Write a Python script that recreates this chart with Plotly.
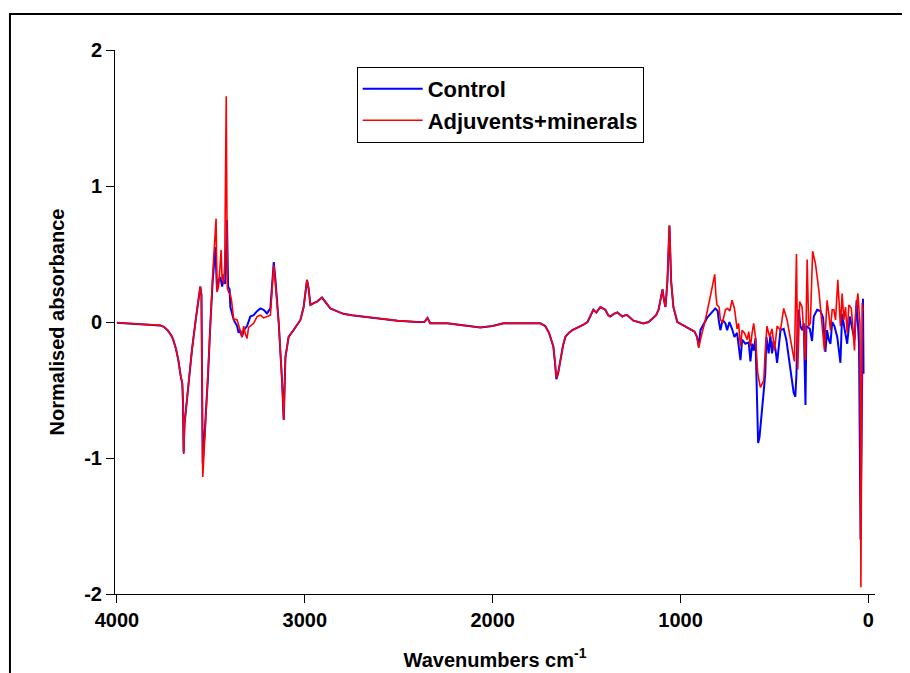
import plotly.graph_objects as go

# ---- data ----
wn_control = [4000, 3950, 3900, 3850, 3800, 3770, 3750, 3730, 3710, 3700, 3685, 3673, 3660, 3652, 3648, 3645,
              3640, 3620, 3600, 3580, 3565, 3556, 3550, 3543, 3530, 3515, 3502, 3490, 3476, 3467, 3458, 3449,
              3440, 3432, 3423, 3414, 3408, 3400, 3396, 3378, 3360, 3352, 3343, 3334, 3325, 3307, 3290, 3272,
              3254, 3236, 3219, 3201, 3183, 3165, 3156, 3139, 3121, 3112, 3103, 3086, 3060, 3040, 3023, 3006,
              2988, 2980, 2970, 2950, 2935, 2908, 2890, 2864, 2830, 2795, 2750, 2689, 2600, 2507, 2401, 2363,
              2347, 2332, 2241, 2150, 2066, 2000, 1943, 1870, 1799, 1746, 1720, 1700, 1693, 1677, 1668, 1661,
              1652, 1640, 1625, 1613, 1595, 1576, 1545, 1517, 1495, 1480, 1464, 1448, 1427, 1400, 1385, 1374,
              1355, 1336, 1320, 1310, 1295, 1283, 1251, 1220, 1198, 1170, 1144, 1130, 1117, 1096, 1088, 1080,
              1070, 1059, 1050, 1038, 1017, 990, 963, 940, 926, 912, 903,
              894, 859, 815, 802, 797, 788, 776, 761, 752, 740, 726, 713, 699, 691, 681, 672, 655, 637, 628,
              619, 611, 601, 597, 592, 587, 580, 570, 560, 549, 543, 531, 522, 513, 505, 495, 486, 468, 451,
              437, 416, 398, 389, 383, 376, 371, 362, 353, 344, 335, 330, 312, 300, 291, 273, 255, 241, 229,
              220, 211, 202, 193, 181, 166, 149, 140, 127, 113, 99, 86, 74, 63, 50, 42, 29, 26]
abs_control = [-0.005, -0.01, -0.015, -0.015, -0.02, -0.025, -0.035, -0.06, -0.1, -0.13, -0.2, -0.28, -0.4, -0.45, -0.6, -0.96,
               -0.75, -0.45, -0.2, 0.02, 0.18, 0.26, 0.2, -1.04, -0.75, -0.4, 0.0, 0.3, 0.55, 0.23, 0.31, 0.33,
               0.26, 0.31, 0.28, 0.75, 0.26, 0.24, 0.11, 0.015, -0.03, -0.08, -0.06, -0.11, -0.06, -0.03, 0.04, 0.05,
               0.08, 0.10, 0.09, 0.064, 0.10, 0.44, 0.31, 0.0, -0.43, -0.72, -0.26, -0.11, -0.06, -0.02, 0.015, 0.11,
               0.31, 0.25, 0.125, 0.14, 0.15, 0.18, 0.15, 0.10, 0.08, 0.06, 0.05, 0.04, 0.025, 0.01, 0.0, 0.0,
               0.03, -0.01, -0.01, -0.025, -0.04, -0.03, -0.01, -0.01, -0.01, -0.01, -0.03, -0.08, -0.11, -0.18, -0.3, -0.42,
               -0.38, -0.28, -0.17, -0.11, -0.08, -0.06, -0.04, -0.02, 0.0, 0.04, 0.09, 0.07, 0.11, 0.09, 0.05, 0.04,
               0.06, 0.07, 0.05, 0.04, 0.05, 0.05, 0.01, -0.005, -0.01, 0.0, 0.03, 0.05, 0.09, 0.24, 0.16, 0.11,
               0.3, 0.71, 0.3, 0.11, 0.0, -0.02, -0.04, -0.06, -0.07, -0.11, -0.18,
               -0.06, 0.03, 0.10, 0.08, 0.015, -0.06, 0.015, -0.01, -0.06, 0.0, -0.05, -0.11, -0.08, -0.16, -0.28, -0.13, -0.16, -0.15, -0.29,
               -0.16, -0.21, -0.12, -0.35, -0.75, -0.89, -0.85, -0.72, -0.55, -0.38, -0.11, -0.23, -0.10, -0.23, -0.14, -0.2, -0.30, -0.06, -0.05,
               -0.13, -0.35, -0.52, -0.55, -0.38, 0.04, 0.09, -0.03, -0.06, -0.01, -0.61, -0.03, -0.05, -0.14, 0.04, 0.09, 0.08, 0.03, -0.22,
               -0.06, -0.13, -0.16, 0.0, -0.03, -0.11, -0.30, 0.06, -0.05, -0.16, 0.04, -0.05, -0.13, 0.16, -0.16, -1.6, 0.17, -0.38]

wn_adjuvants = [4000, 3950, 3900, 3850, 3800, 3770, 3750, 3730, 3710, 3700, 3685, 3673, 3660, 3652, 3648, 3644,
                3640, 3620, 3600, 3580, 3565, 3556, 3550, 3543, 3530, 3515, 3502, 3490, 3472, 3467, 3458, 3445,
                3440, 3436, 3432, 3426, 3418, 3412, 3405, 3396, 3390, 3378, 3370, 3360, 3343, 3334, 3325, 3316,
                3307, 3299, 3290, 3272, 3254, 3236, 3219, 3201, 3183, 3165, 3156, 3139, 3121, 3112, 3103, 3086,
                3060, 3040, 3023, 3006, 2988, 2980, 2970, 2950, 2935, 2908, 2890, 2864, 2830, 2795, 2750, 2689,
                2600, 2507, 2401, 2363, 2347, 2332, 2241, 2150, 2066, 2000, 1943, 1870, 1799, 1746, 1720, 1700,
                1693, 1677, 1668, 1661, 1652, 1640, 1625, 1613, 1595, 1576, 1545, 1517, 1495, 1480, 1464, 1448,
                1427, 1400, 1385, 1374, 1355, 1336, 1320, 1310, 1295, 1283, 1251, 1220, 1198, 1170, 1144, 1130,
                1117, 1096, 1088, 1080, 1070, 1059, 1050, 1038, 1017, 990, 963, 940, 926, 912, 903,
                894, 868, 841, 818, 812, 806, 795, 788, 776, 761, 749, 738, 726, 713, 699, 691, 681, 672, 660,
                645, 637, 628, 619, 611, 601, 589, 575, 557, 549, 540, 526, 513, 500, 486, 468, 451, 433, 416,
                394, 383, 376, 366, 353, 335, 326, 318, 309, 297, 282, 264, 246, 234, 229, 220, 211, 202, 193,
                184, 175, 163, 149, 140, 131, 122, 113, 104, 91, 80, 74, 68, 56, 45, 40, 33, 29]
abs_adjuvants = [-0.005, -0.01, -0.015, -0.015, -0.02, -0.025, -0.035, -0.06, -0.1, -0.13, -0.2, -0.28, -0.4, -0.45, -0.55, -0.97,
                 -0.75, -0.45, -0.2, 0.02, 0.18, 0.26, 0.2, -1.14, -0.8, -0.42, 0.0, 0.35, 0.76, 0.22, 0.27, 0.53,
                 0.31, 0.35, 0.28, 0.42, 1.66, 0.25, 0.22, 0.2, 0.16, 0.015, 0.02, 0.015, -0.06, -0.11, -0.03, -0.09,
                 -0.12, -0.04, -0.03, -0.01, 0.04, 0.05, 0.03, 0.04, 0.05, 0.42, 0.28, 0.0, -0.43, -0.72, -0.26, -0.11,
                 -0.06, -0.02, 0.015, 0.11, 0.31, 0.25, 0.125, 0.14, 0.15, 0.18, 0.15, 0.10, 0.08, 0.06, 0.05, 0.04,
                 0.025, 0.01, 0.0, 0.0, 0.03, -0.01, -0.01, -0.025, -0.04, -0.03, -0.01, -0.01, -0.01, -0.01, -0.03, -0.08,
                 -0.11, -0.18, -0.3, -0.41, -0.38, -0.28, -0.17, -0.11, -0.08, -0.06, -0.04, -0.02, 0.0, 0.04, 0.09, 0.07,
                 0.11, 0.09, 0.05, 0.04, 0.06, 0.07, 0.05, 0.04, 0.05, 0.05, 0.01, -0.005, -0.01, 0.0, 0.03, 0.05,
                 0.09, 0.24, 0.16, 0.11, 0.3, 0.71, 0.3, 0.11, 0.0, -0.02, -0.04, -0.06, -0.07, -0.11, -0.19,
                 -0.13, 0.015, 0.19, 0.35, 0.2, 0.125, 0.11, 0.015, 0.0, 0.09, 0.1, 0.08, 0.16, 0.1, -0.05, -0.01, -0.18, -0.06, -0.08,
                 -0.13, -0.07, -0.18, -0.08, -0.01, -0.11, -0.38, -0.48, -0.43, -0.21, -0.03, -0.11, -0.05, -0.21, -0.03, -0.06, 0.10, 0.015, -0.13,
                 -0.29, 0.50, -0.35, 0.15, 0.11, -0.28, 0.46, -0.03, -0.01, 0.52, 0.43, 0.235, -0.01, -0.21, -0.07, 0.16, 0.06, -0.06, 0.09,
                 0.09, 0.015, 0.31, -0.03, 0.21, 0.015, 0.11, -0.08, 0.125, 0.1, -0.11, -0.21, 0.06, 0.21, -0.01, -1.95, 0.14, 0.08]

x_ticks = [4000, 3000, 2000, 1000, 0]
y_ticks = [-2, -1, 0, 1, 2]

FONT = "Arial, 'Liberation Sans', sans-serif"

fig = go.Figure()
fig.add_trace(go.Scatter(x=wn_control, y=abs_control, mode="lines", name="Control",
                         line=dict(color="#0000FF", width=2)))
fig.add_trace(go.Scatter(x=wn_adjuvants, y=abs_adjuvants, mode="lines", name="Adjuvents+minerals",
                         line=dict(color="#FF0000", width=1.6)))

axis_common = dict(showline=True, linecolor="black", linewidth=1, ticks="outside", ticklen=8,
                   tickcolor="black", tickwidth=1, showgrid=False, zeroline=False, automargin=False,
                   tickfont=dict(family=FONT, size=20, color="black", weight="bold"))

fig.update_layout(
    width=902, height=665,
    margin=dict(l=107, r=35, t=42, b=79),
    paper_bgcolor="white", plot_bgcolor="white",
    showlegend=True,
    legend=dict(x=0.318, y=0.969, xanchor="left", yanchor="top",
                bordercolor="black", borderwidth=1, bgcolor="white",
                font=dict(family=FONT, size=22, color="black", weight="bold"),
                itemwidth=60, tracegroupgap=0),
    xaxis=dict(range=[4010, -35], tickmode="array", tickvals=x_ticks,
               ticktext=[str(v) for v in x_ticks],
               title=dict(text="Wavenumbers cm<sup>-1</sup>", standoff=22,
                          font=dict(family=FONT, size=20, color="black", weight="bold")),
               **axis_common),
    yaxis=dict(range=[-2, 2], tickmode="array", tickvals=y_ticks,
               ticktext=[str(v) for v in y_ticks],
               title=dict(text="Normalised absorbance", standoff=14,
                          font=dict(family=FONT, size=20, color="black", weight="bold")),
               **axis_common),
    shapes=[dict(type="rect", xref="paper", yref="paper",
                 x0=-0.1382, x1=1.06, y0=-0.2, y1=1.0662,
                 line=dict(color="black", width=2), fillcolor="rgba(0,0,0,0)", layer="below")],
)

fig.write_html("out.html")
